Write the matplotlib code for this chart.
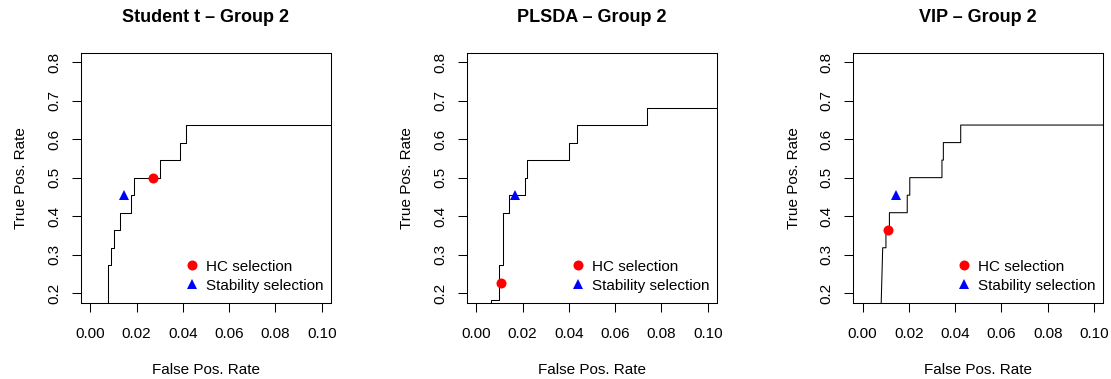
import matplotlib
matplotlib.use("Agg")
import matplotlib.pyplot as plt

plt.rcParams['font.family'] = ['Liberation Sans', 'DejaVu Sans']

titles = ["Student t \u2013 Group 2", "PLSDA \u2013 Group 2", "VIP \u2013 Group 2"]

# ROC curves (FPR, TPR)
fpr_t = [0.0075, 0.0075, 0.0088, 0.0088, 0.0101, 0.0101, 0.0127, 0.0127, 0.0175, 0.0175,
         0.0188, 0.0188, 0.0300, 0.0300, 0.0388, 0.0388, 0.0414, 0.0414, 1.0]
tpr_t = [0.10, 0.2727, 0.2727, 0.3182, 0.3182, 0.3636, 0.3636, 0.4091, 0.4091, 0.4545,
         0.4545, 0.5000, 0.5000, 0.5455, 0.5455, 0.5909, 0.5909, 0.6364, 0.6364]

fpr_pls = [0.0065, 0.0065, 0.0098, 0.0098, 0.0117, 0.0117, 0.0141, 0.0141, 0.0210, 0.0210,
           0.0218, 0.0218, 0.0399, 0.0399, 0.0437, 0.0437, 0.0737, 0.0737, 1.0]
tpr_pls = [0.10, 0.1818, 0.1818, 0.2727, 0.2727, 0.4091, 0.4091, 0.4545, 0.4545, 0.5000,
           0.5000, 0.5455, 0.5455, 0.5909, 0.5909, 0.6364, 0.6364, 0.6818, 0.6818]

fpr_vip = [0.0078, 0.0087, 0.0101, 0.0101, 0.0116, 0.0116, 0.0193, 0.0193, 0.0204, 0.0204,
           0.0343, 0.0343, 0.0349, 0.0349, 0.0424, 0.0424, 1.0]
tpr_vip = [0.12, 0.3182, 0.3182, 0.3636, 0.3636, 0.4091, 0.4091, 0.4545, 0.4545, 0.5000,
           0.5000, 0.5455, 0.5455, 0.5909, 0.5909, 0.6364, 0.6364]

# selected points (FPR, TPR)
hc_points = [(0.0270, 0.5000), (0.0106, 0.2273), (0.0111, 0.3636)]
stab_points = [(0.0145, 0.4545), (0.0166, 0.4545), (0.0143, 0.4545)]

curves = [(fpr_t, tpr_t), (fpr_pls, tpr_pls), (fpr_vip, tpr_vip)]

W, H = 1111, 379
fig = plt.figure(figsize=(W / 100, H / 100), dpi=100)

lefts = [81, 467, 853.3]
for i in range(3):
    ax = fig.add_axes([lefts[i] / W, (H - 302.6) / H, 250 / W, (302.6 - 52.7) / H])
    fx, ty = curves[i]
    ax.plot(fx, ty, color="black", lw=0.75)
    ax.plot(hc_points[i][0], hc_points[i][1], "o", color="red", ms=7.2, mew=0,
            label="HC selection")
    ax.plot(stab_points[i][0], stab_points[i][1], "^", color="blue", ms=7.6, mew=0,
            label="Stability selection")
    ax.set_xlim(-0.004, 0.104)
    ax.set_ylim(0.176, 0.824)
    ax.set_xticks([0.00, 0.02, 0.04, 0.06, 0.08, 0.10])
    ax.set_xticklabels(["0.00", "0.02", "0.04", "0.06", "0.08", "0.10"])
    ax.set_yticks([0.2, 0.3, 0.4, 0.5, 0.6, 0.7, 0.8])
    ax.set_yticklabels(["0.2", "0.3", "0.4", "0.5", "0.6", "0.7", "0.8"], rotation=90,
                       va="center")
    ax.tick_params(length=6.8, width=0.75, labelsize=11)
    ax.tick_params(axis="x", pad=10.5)
    ax.tick_params(axis="y", pad=7.3)
    for s in ax.spines.values():
        s.set_linewidth(0.75)
    ax.set_title(titles[i], fontsize=13, fontweight="bold", pad=22)
    ax.set_xlabel("False Pos. Rate", fontsize=11, labelpad=16)
    ax.set_ylabel("True Pos. Rate", fontsize=11, labelpad=13.7)
    ax.legend(loc="lower right", bbox_to_anchor=(0.969, 0.04), frameon=False, fontsize=11,
              handletextpad=0.43, borderpad=0, borderaxespad=0, labelspacing=0.32,
              handlelength=1.0)

fig.savefig("out.png", dpi=100)
